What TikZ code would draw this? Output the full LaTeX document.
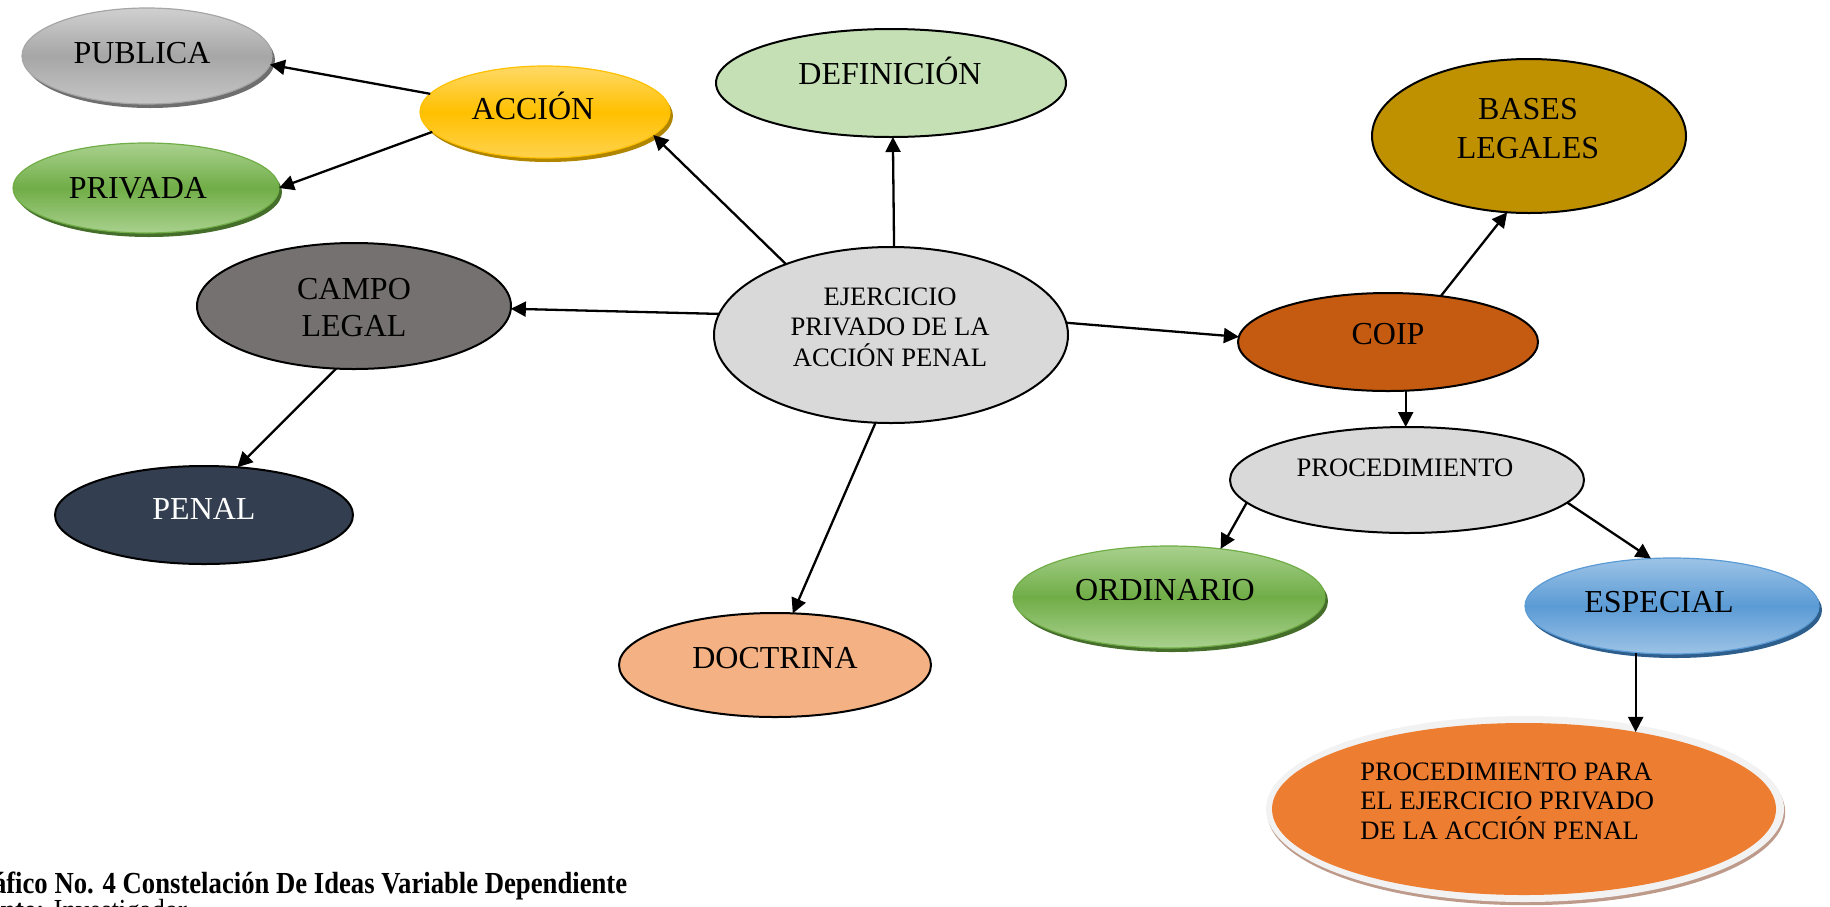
\documentclass[tikz,border=0pt]{standalone}
\usepackage{fontspec}
\setmainfont{Liberation Serif}
\usetikzlibrary{shapes.geometric,arrows.meta,shadows}
\definecolor{grTop}{HTML}{D0D0D0}
\definecolor{grMid}{HTML}{A6A6A6}
\definecolor{grBot}{HTML}{C6C6C6}
\definecolor{grSh}{HTML}{6E6E6E}
\definecolor{goTop}{HTML}{FFD966}
\definecolor{goMid}{HTML}{FFC000}
\definecolor{goBot}{HTML}{FFD24D}
\definecolor{goSh}{HTML}{B08500}
\definecolor{gnTop}{HTML}{A9D18E}
\definecolor{gnMid}{HTML}{70AD47}
\definecolor{gnBot}{HTML}{A9D18E}
\definecolor{gnSh}{HTML}{456E2B}
\definecolor{blTop}{HTML}{9DC3E6}
\definecolor{blMid}{HTML}{5B9BD5}
\definecolor{blBot}{HTML}{9DC3E6}
\definecolor{blSh}{HTML}{2E5E8C}
\definecolor{defC}{HTML}{C5E0B4}
\definecolor{basC}{HTML}{BF9000}
\definecolor{camC}{HTML}{767171}
\definecolor{ejeC}{HTML}{D9D9D9}
\definecolor{coiC}{HTML}{C55A11}
\definecolor{penC}{HTML}{333F50}
\definecolor{docC}{HTML}{F4B183}
\definecolor{bigC}{HTML}{ED7D31}
\definecolor{ringC}{HTML}{F2F2F2}
\definecolor{bigSh}{HTML}{BE9A8A}
\begin{document}
\begin{tikzpicture}[x=0.5pt,y=-0.5pt,
  ell/.style={ellipse, inner sep=0pt, outer sep=0pt, draw=black, line width=1pt},
  gloss/.style n args={4}{ellipse, inner sep=0pt, outer sep=0pt,
     top color=#1, bottom color=#3, middle color=#2, draw=#2, line width=0.6pt,
     drop shadow={shadow xshift=1.5pt, shadow yshift=-2pt, fill=#4, opacity=1}},
  arr/.style={-{Triangle[length=7.5pt,width=7.5pt]}, line width=1.15pt},
  lbl/.style={inner sep=0pt, font=\fontsize{16pt}{18.5pt}\selectfont},
  sml/.style={inner sep=0pt, font=\fontsize{13.3pt}{15.25pt}\selectfont}
]
\useasboundingbox (0,0) rectangle (1830,906);
\clip (0,0) rectangle (1830,906);

% shapes
\node[gloss={grTop}{grMid}{grBot}{grSh}, minimum width=125pt, minimum height=48pt] (pub) at (147,56) {};
\node[gloss={goTop}{goMid}{goBot}{goSh}, minimum width=125pt, minimum height=46pt] (acc) at (545,112) {};
\node[gloss={gnTop}{gnMid}{gnBot}{gnSh}, minimum width=133pt, minimum height=45pt] (priv) at (146,188) {};
\node[ell, fill=defC, minimum width=175pt, minimum height=54pt] (def) at (891,83) {};
\node[ell, fill=basC, minimum width=157pt, minimum height=77pt] (bases) at (1529,136) {};
\node[ell, fill=camC, minimum width=157pt, minimum height=63pt] (campo) at (354,306) {};
\node[ell, fill=ejeC, minimum width=177pt, minimum height=88pt] (ej) at (891,335) {};
\node[ell, fill=coiC, minimum width=150pt, minimum height=49pt] (coip) at (1388,342) {};
\node[ell, fill=ejeC, minimum width=177pt, minimum height=53pt] (proc) at (1407,480) {};
\node[ell, fill=penC, minimum width=149pt, minimum height=49pt] (penal) at (204,515) {};
\node[gloss={gnTop}{gnMid}{gnBot}{gnSh}, minimum width=156pt, minimum height=51pt] (ord) at (1169,597) {};
\node[gloss={blTop}{blMid}{blBot}{blSh}, minimum width=147pt, minimum height=48pt] (esp) at (1672,606) {};
\node[ell, fill=docC, minimum width=156pt, minimum height=52pt] (doc) at (775,665) {};
\node[ellipse, inner sep=0pt, fill=ringC, minimum width=259pt, minimum height=93pt,
      drop shadow={shadow xshift=0.6pt, shadow yshift=-1.6pt, fill=bigSh, opacity=1}] (bigring) at (1525,809) {};
\node[ellipse, inner sep=0pt, fill=bigC, minimum width=252pt, minimum height=86pt] (big) at (1524,809) {};

% labels
\node[lbl, anchor=base] (tpub) at (142,63) {PUBLICA};
\node[lbl, anchor=base] (tacc) at (533,119) {ACCIÓN};
\node[lbl, anchor=base] (tpriv) at (138,198) {PRIVADA};
\node[lbl, anchor=base] (tdef) at (890,84) {DEFINICIÓN};
\node[lbl, anchor=base, align=center, font=\fontsize{16pt}{19.5pt}\selectfont] (tbases) at (1528,158) {BASES\\LEGALES};
\node[lbl, anchor=base, align=center] (tcampo) at (354,336) {CAMPO\\LEGAL};
\node[sml, anchor=base, align=center] (tej) at (890,366) {EJERCICIO\\PRIVADO DE LA\\ACCIÓN PENAL};
\node[lbl, anchor=base] (tcoip) at (1388,344) {COIP};
\node[sml, anchor=base] (tproc) at (1405,476) {PROCEDIMIENTO};
\node[lbl, anchor=base, text=white] (tpenal) at (204,519) {PENAL};
\node[lbl, anchor=base] (tord) at (1165,600) {ORDINARIO};
\node[lbl, anchor=base] (tesp) at (1659,612) {ESPECIAL};
\node[lbl, anchor=base] (tdoc) at (775,668) {DOCTRINA};
\node[sml, anchor=base west, align=left, font=\fontsize{13.3pt}{14.75pt}\selectfont] (tbig) at (1360,839) {PROCEDIMIENTO PARA\\EL EJERCICIO PRIVADO\\DE LA ACCIÓN PENAL};

% connectors
\draw[arr] (ej.146) -- (acc.-12);
\draw[arr] (acc.171) -- (pub.-4);
\draw[arr] (acc.-170) -- (priv.0);
\draw[arr] (ej.88) -- (def.-88);
\draw[arr] (ej.173) -- (campo.-1);
\draw[arr] (ej.4) -- (coip.178);
\draw[arr] (ej.-100) -- (doc.71);
\draw[arr] (campo.-106) -- (penal.55);
\draw[arr] (coip.41) -- (bases.-106);
\draw[arr] (coip.-70) -- (coip.-70 |- proc.north);
\draw[arr] (proc.-172) -- (ord.43);
\draw[arr] (proc.-8) -- (esp.114);
\draw[arr] (esp.-128) -- (esp.-128 |- big.34);

% caption
\node[anchor=base west, inner sep=0pt, font=\fontsize{15.3pt}{17pt}\selectfont\bfseries] (cap) at (-40,893)
  {\scalebox{0.872}[1]{Gráfico No. 4 Constelación De Ideas Variable Dependiente}};
\node[anchor=base west, inner sep=0pt, font=\fontsize{15.3pt}{17pt}\selectfont] (src) at (-43,920)
  {\scalebox{0.872}[1]{\textbf{Fuente:} Investigador}};
\end{tikzpicture}
\end{document}
